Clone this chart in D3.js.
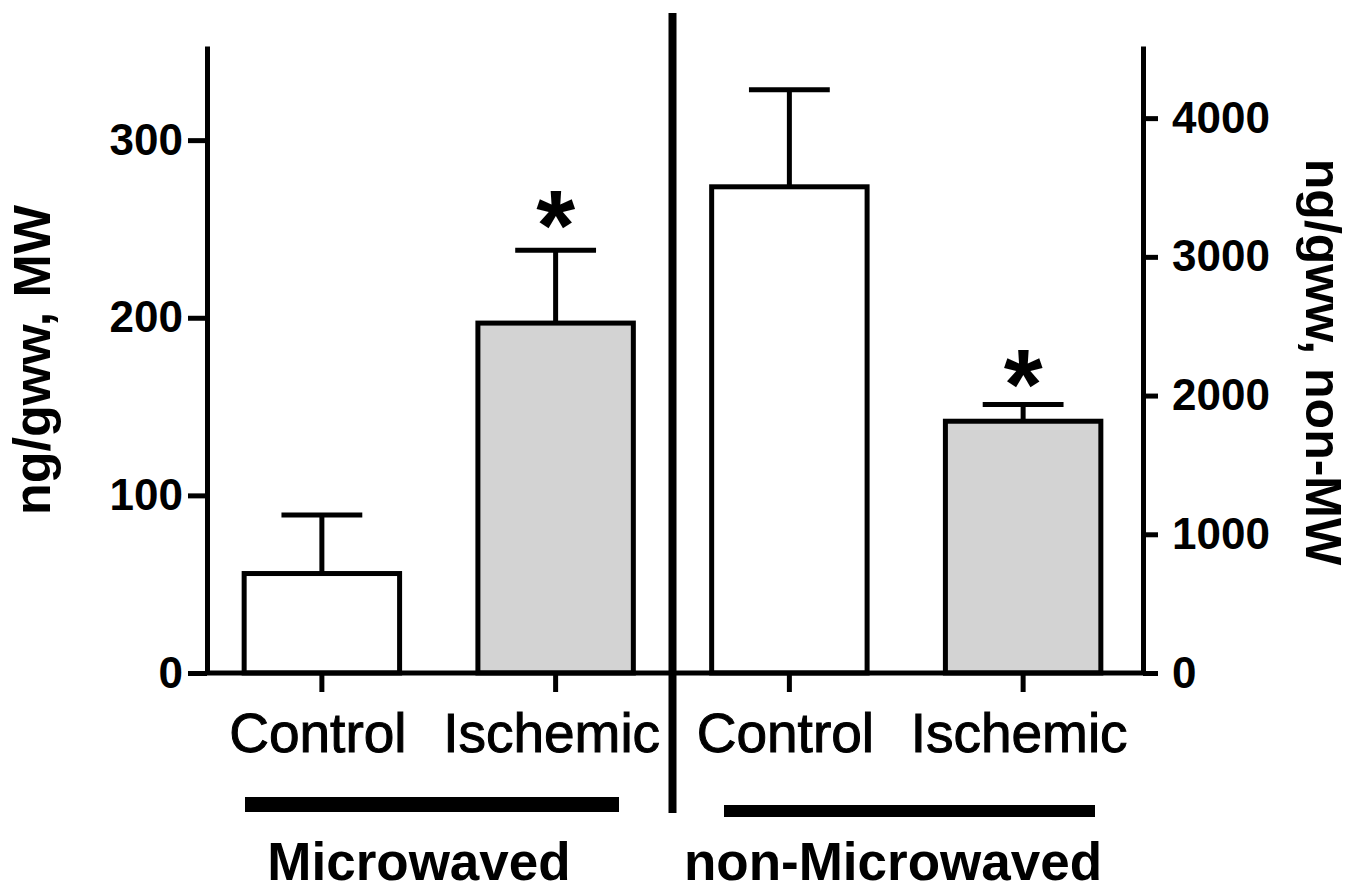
<!DOCTYPE html>
<html>
<head>
<meta charset="utf-8">
<script src="https://cdn.jsdelivr.net/npm/d3@7"></script>
<style>
  body { margin: 0; background: #fff; }
  svg { display: block; font-family: "Liberation Sans", Arial, sans-serif; }
  .axis path, .axis line { stroke: #000; stroke-width: 5; }
  .axis text { font-size: 44px; font-weight: bold; fill: #000; }
</style>
</head>
<body>
<svg id="chart" width="1355" height="890"></svg>
<script>
// data
const keys = ["mwControl", "mwIschemic", "nmControl", "nmIschemic"];
const labels = ["Control", "Ischemic", "Control", "Ischemic"];
const groups = ["MW", "MW", "nonMW", "nonMW"];
const means = [56, 197, 3505, 1815];
const errors = [33, 41, 700, 120];
const fills = ["#ffffff", "#d3d3d3", "#ffffff", "#d3d3d3"];
const stars = [null, 264, null, 2234];
const leftTicks = [0, 100, 200, 300];
const rightTicks = [0, 1000, 2000, 3000, 4000];
const groupLabels = ["Microwaved", "non-Microwaved"];

const axisL = 207, axisR = 1143, base = 673, plotTop = 46;

const svg = d3.select("#chart");

const x = d3.scaleBand().domain(keys).range([205, 1140])
  .paddingInner(0.335).paddingOuter(0.1675);
const yL = d3.scaleLinear().domain([0, 353]).range([base, plotTop]);
const yR = d3.scaleLinear().domain([0, 4520]).range([base, plotTop]);
const yOf = i => groups[i] === "MW" ? yL : yR;

const rows = keys.map((k, i) => ({ k, i, mean: means[i], err: errors[i] }));

// error bars (drawn first so bar outline sits on top)
const eb = svg.append("g").attr("stroke", "#000").attr("stroke-width", 5);
rows.forEach(d => {
  const y = yOf(d.i), cx = x(d.k) + x.bandwidth() / 2, cap = x.bandwidth() * 0.26;
  eb.append("line").attr("x1", cx).attr("x2", cx)
    .attr("y1", y(d.mean)).attr("y2", y(d.mean + d.err));
  eb.append("line").attr("x1", cx - cap).attr("x2", cx + cap)
    .attr("y1", y(d.mean + d.err)).attr("y2", y(d.mean + d.err));
});

// bars
svg.append("g").selectAll("rect").data(rows).join("rect")
  .attr("x", d => x(d.k))
  .attr("width", x.bandwidth())
  .attr("y", d => yOf(d.i)(d.mean))
  .attr("height", d => base - yOf(d.i)(d.mean))
  .attr("fill", d => fills[d.i])
  .attr("stroke", "#000")
  .attr("stroke-width", 5);

// stars
svg.append("g").selectAll("text").data(rows.filter(d => stars[d.i] != null)).join("text")
  .attr("x", d => x(d.k) + x.bandwidth() / 2)
  .attr("y", d => yOf(d.i)(stars[d.i]))
  .attr("dy", "0.56em")
  .attr("text-anchor", "middle")
  .attr("font-size", 100)
  .attr("font-weight", "bold")
  .text("*");

// left axis
svg.append("g").attr("class", "axis")
  .attr("transform", `translate(${axisL},0)`)
  .call(d3.axisLeft(yL).tickValues(leftTicks).tickSize(19).tickSizeOuter(0).tickPadding(5));

// right axis
svg.append("g").attr("class", "axis")
  .attr("transform", `translate(${axisR},0)`)
  .call(d3.axisRight(yR).tickValues(rightTicks).tickFormat(d3.format("d"))
    .tickSize(15).tickSizeOuter(0).tickPadding(14));

// bottom axis
svg.append("g").attr("class", "axis")
  .attr("transform", `translate(0,${base})`)
  .call(d3.axisBottom(x).tickSize(19).tickFormat(""))
  .call(g => g.select(".domain").remove());
svg.append("line").attr("x1", axisL).attr("x2", axisR)
  .attr("y1", base).attr("y2", base)
  .attr("stroke", "#000").attr("stroke-width", 5);

// category labels
svg.append("g").selectAll("text").data(rows).join("text")
  .attr("x", d => x(d.k) + x.bandwidth() / 2 - 4)
  .attr("y", 752)
  .attr("text-anchor", "middle")
  .attr("font-size", 55)
  .attr("stroke", "#000").attr("stroke-width", 1)
  .text(d => labels[d.i]);

// divider between groups
const mid = (x("mwIschemic") + x.bandwidth() + x("nmControl")) / 2;
svg.append("line").attr("x1", mid).attr("x2", mid)
  .attr("y1", 13).attr("y2", 813)
  .attr("stroke", "#000").attr("stroke-width", 8);

// group underlines and names
svg.append("rect").attr("x", 245).attr("y", 797).attr("width", 374).attr("height", 15);
svg.append("rect").attr("x", 724).attr("y", 805).attr("width", 371).attr("height", 12);
svg.append("text").attr("x", 419).attr("y", 880).attr("text-anchor", "middle")
  .attr("font-size", 53).attr("font-weight", "bold").text(groupLabels[0]);
svg.append("text").attr("x", 893).attr("y", 880).attr("text-anchor", "middle")
  .attr("font-size", 53).attr("font-weight", "bold").text(groupLabels[1]);

// axis titles
svg.append("text")
  .attr("transform", `translate(50,360) rotate(-90)`)
  .attr("text-anchor", "middle")
  .attr("font-size", 52).attr("font-weight", "bold")
  .text("ng/gww, MW");
svg.append("text")
  .attr("transform", `translate(1306,362) rotate(90)`)
  .attr("text-anchor", "middle")
  .attr("font-size", 50).attr("font-weight", "bold")
  .text("ng/gww, non-MW");
</script>
</body>
</html>
